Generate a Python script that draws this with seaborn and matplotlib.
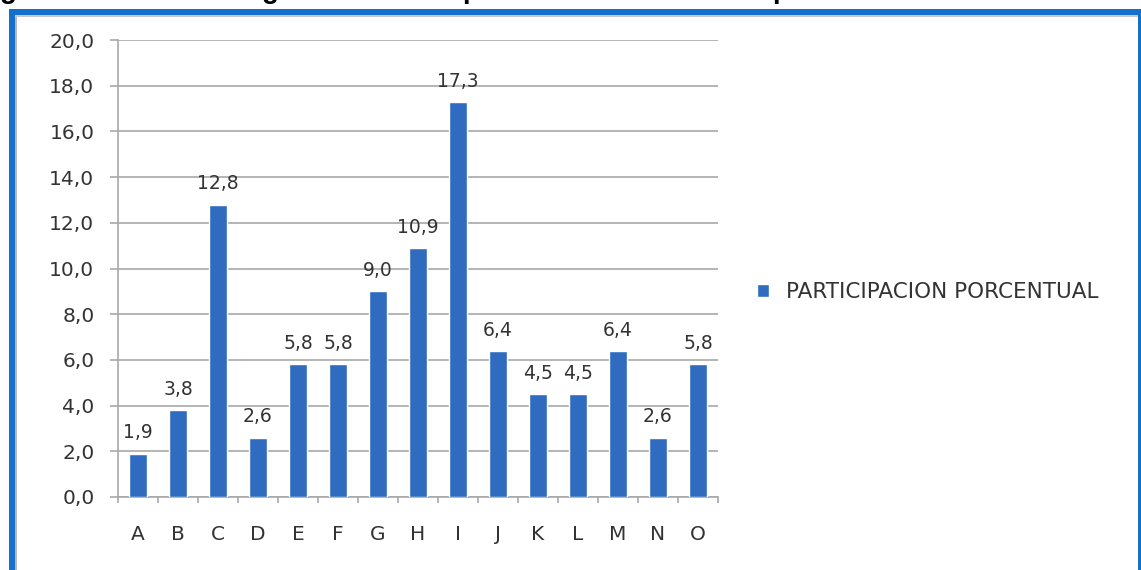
import numpy as np
import pandas as pd
import seaborn as sns
import matplotlib
matplotlib.use('Agg')
import matplotlib.pyplot as plt
from matplotlib.patches import Rectangle

# data
categorias = ['A', 'B', 'C', 'D', 'E', 'F', 'G', 'H', 'I', 'J', 'K', 'L', 'M', 'N', 'O']
participacion = [1.9, 3.8, 12.8, 2.6, 5.8, 5.8, 9.0, 10.9, 17.3, 6.4, 4.5, 4.5, 6.4, 2.6, 5.8]
serie = 'PARTICIPACION PORCENTUAL'
yticks = [0, 2, 4, 6, 8, 10, 12, 14, 16, 18, 20]

df = pd.DataFrame({'cat': categorias, 'val': participacion})

sns.set_style('white')
plt.rcParams['font.family'] = ['DejaVu Sans']

W, H = 1141, 570
fig = plt.figure(figsize=(W / 100, H / 100), dpi=100)
fig.patch.set_facecolor('white')

# axes placed in pixel terms
ax = fig.add_axes([118 / W, (H - 497) / H, 600 / W, (497 - 40) / H])

grid_c = '#a8a8a8'
txt_c = '#333333'
sns.barplot(data=df, x='cat', y='val', color='#2f6cbf', width=0.43,
            saturation=1, ax=ax, label=serie, zorder=3)

ax.set_ylim(0, 20)
ax.set_xlim(-0.5, len(categorias) - 0.5)
ax.set_yticks(yticks)
ax.set_yticklabels([f'{v:.1f}'.replace('.', ',') for v in yticks])
ax.yaxis.grid(True, color=grid_c, lw=1.2, zorder=0)
ax.set_axisbelow(True)
ax.set_xlabel('')
ax.set_ylabel('')

for s in ['top', 'right']:
    ax.spines[s].set_visible(False)
for s in ['left', 'bottom']:
    ax.spines[s].set_color(grid_c)
    ax.spines[s].set_linewidth(1.2)

ax.tick_params(axis='y', length=6, color=grid_c, width=1.2, labelsize=14.5,
               labelcolor=txt_c, pad=11, left=True)
ax.tick_params(axis='x', which='major', length=0, labelsize=14.5,
               labelcolor=txt_c, pad=20)
ax.set_xticks(np.arange(-0.5, len(categorias), 1), minor=True)
ax.tick_params(axis='x', which='minor', length=4, color=grid_c, width=1.2,
               bottom=True)

for cont in ax.containers:
    ax.bar_label(cont, labels=[f'{v:.1f}'.replace('.', ',') for v in participacion],
                 padding=8, fontsize=13.5, color=txt_c)

leg = ax.legend(loc='center left', bbox_to_anchor=(738 / W, (H - 292) / H),
                bbox_transform=fig.transFigure, frameon=False,
                handlelength=0.55, handleheight=0.55, handletextpad=0.8,
                fontsize=15.5)
for t in leg.get_texts():
    t.set_color(txt_c)

# blue frame around the chart
blue = '#1770c8'
def px_rect(x0, y0, x1, y1, color):
    fig.add_artist(Rectangle((x0 / W, (H - y1) / H), (x1 - x0) / W, (y1 - y0) / H,
                             transform=fig.transFigure, facecolor=color,
                             edgecolor='none', zorder=10))

px_rect(9, 9, 1141, 15, blue)
px_rect(9, 9, 15, 570, blue)
px_rect(1138, 9, 1141, 570, blue)
px_rect(15, 15, 17, 570, '#b8b8b8')
px_rect(15, 15, 1138, 17, '#c8c8c8')

# cut-off caption above the chart: only descenders remain visible
for x, ch in [(0, 'g'), (262, 'g'), (462, 'p'), (772, 'p')]:
    fig.text(x / W, 1 + 2 / H, ch, fontsize=20, fontweight='bold',
             family='Liberation Sans', va='baseline', ha='left', color='black')

fig.savefig('out.png', dpi=100, facecolor='white')
